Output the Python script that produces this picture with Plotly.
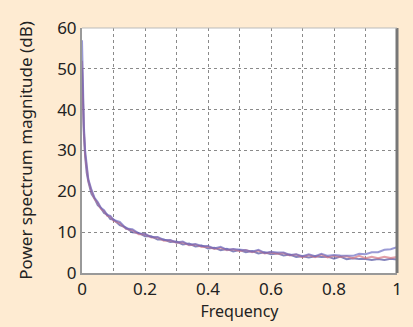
import plotly.graph_objects as go

freq = [0, 0.003, 0.006, 0.01, 0.015, 0.02, 0.03, 0.04, 0.05, 0.06, 0.07, 0.08, 0.09, 0.1,
        0.12, 0.14, 0.16, 0.18, 0.2, 0.22, 0.24, 0.26, 0.28, 0.3, 0.32, 0.34, 0.36, 0.38,
        0.4, 0.42, 0.44, 0.46, 0.48, 0.5, 0.52, 0.54, 0.56, 0.58, 0.6, 0.62, 0.64, 0.66,
        0.68, 0.7, 0.72, 0.74, 0.76, 0.78, 0.8, 0.82, 0.84, 0.86, 0.88, 0.9, 0.92, 0.94,
        0.96, 0.98, 1.0]

blue_a = [57, 45, 36, 30, 25.5, 23, 20.4, 18.4, 17.4, 16.0, 15.4, 14.2, 14.0, 13.0,
          12.5, 10.9, 10.7, 9.7, 9.6, 8.8, 8.8, 8.1, 8.1, 7.5, 7.7, 6.9, 7.1, 6.6,
          6.6, 6.0, 6.4, 5.7, 5.9, 5.7, 5.6, 5.2, 5.7, 4.9, 5.2, 5.0, 5.0, 4.4,
          4.6, 4.1, 4.6, 4.1, 4.7, 4.2, 4.4, 4.3, 4.2, 4.2, 4.7, 4.6, 5.1, 5.1,
          5.7, 5.8, 6.3]

blue_b = [50, 41, 34, 28.5, 24.5, 22.4, 19.4, 18.2, 16.6, 15.9, 14.7, 14.3, 13.2, 13.1,
          11.7, 11.1, 10.0, 9.8, 9.0, 9.0, 8.2, 8.2, 7.6, 7.7, 7.0, 7.2, 6.5, 6.7,
          6.0, 6.2, 5.6, 5.9, 5.3, 5.6, 5.1, 5.4, 4.8, 5.1, 4.6, 4.8, 4.3, 4.5,
          3.9, 4.1, 3.8, 4.1, 3.9, 4.0, 3.5, 4.0, 3.4, 3.6, 3.4, 3.4, 3.2, 3.4,
          3.2, 3.5, 3.3]

red = [52, 42, 35, 29, 25, 22.7, 20.1, 18.1, 17.2, 15.7, 15.2, 14.0, 13.8, 12.8,
       12.2, 10.8, 10.5, 9.5, 9.5, 8.7, 8.7, 7.9, 8.0, 7.4, 7.5, 6.8, 7.0, 6.4,
       6.5, 5.9, 6.2, 5.6, 5.8, 5.4, 5.6, 5.1, 5.5, 4.8, 5.1, 4.7, 4.9, 4.3,
       4.5, 3.9, 4.4, 3.9, 4.5, 3.8, 4.2, 3.9, 4.1, 3.6, 4.2, 3.6, 4.0, 3.6,
       4.0, 3.7, 3.9]

series = [("blue_b", blue_b, "rgba(80,80,160,0.7)"),
          ("red", red, "rgba(215,120,130,0.7)"),
          ("blue_a", blue_a, "rgba(100,100,190,0.65)")]

x_tickvals = [0, 0.1, 0.2, 0.3, 0.4, 0.5, 0.6, 0.7, 0.8, 0.9, 1.0]
x_ticktext = ["0", "", "0.2", "", "0.4", "", "0.6", "", "0.8", "", "1"]
y_tickvals = [0, 10, 20, 30, 40, 50, 60]

fig = go.Figure()
for name, ys, col in series:
    fig.add_trace(go.Scatter(x=freq, y=ys, mode="lines", name=name,
                             line=dict(color=col, width=2), showlegend=False))

font = "Noto Sans"
grid = dict(showgrid=True, gridcolor="#8a8a8a", griddash="dot", gridwidth=1)
fig.update_layout(
    width=413, height=327,
    margin=dict(l=82, r=16, t=28, b=54),
    paper_bgcolor="#FEEBD2", plot_bgcolor="white",
    font=dict(family=font, size=17, color="#222"),
    xaxis=dict(range=[0, 1], tickvals=x_tickvals, ticktext=x_ticktext,
               title=dict(text="Frequency", font=dict(size=16), standoff=4),
               zeroline=False, showline=True, linecolor="#999", linewidth=2,
               ticks="", tickfont=dict(size=17), **grid),
    yaxis=dict(range=[0, 60], tickvals=y_tickvals,
               title=dict(text="Power spectrum magnitude (dB)", font=dict(size=17), standoff=20),
               zeroline=False, showline=True, linecolor="#999", linewidth=2,
               ticks="", tickfont=dict(size=17), **grid),
)
fig.add_shape(type="line", xref="paper", yref="paper", x0=1, x1=1, y0=0, y1=1,
              line=dict(color="#777", width=3))
fig.add_shape(type="line", xref="paper", yref="paper", x0=0, x1=1, y0=1, y1=1,
              line=dict(color="#bbb", width=1))
fig.write_html("out.html")
